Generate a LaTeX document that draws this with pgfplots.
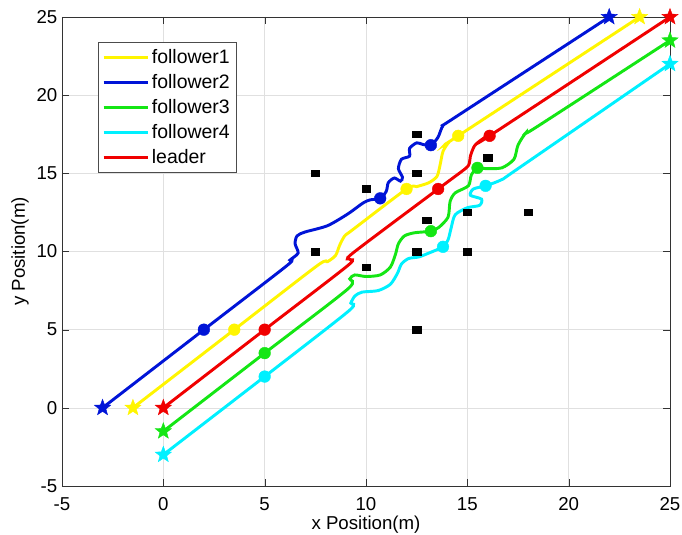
\documentclass[border=0pt]{standalone}
\usepackage{fontspec}
\setmainfont{Liberation Sans}
\usepackage{pgfplots}
\pgfplotsset{compat=1.18}

\definecolor{fyellow}{RGB}{255,245,0}
\definecolor{fblue}{RGB}{0,20,215}
\definecolor{fgreen}{RGB}{20,230,20}
\definecolor{fcyan}{RGB}{0,240,255}
\definecolor{fred}{RGB}{240,0,0}

% filled five-pointed star, like MATLAB's pentagram
\pgfdeclareplotmark{pstar}{%
  \pgfpathmoveto{\pgfpointpolar{90}{\pgfplotmarksize}}%
  \pgfpathlineto{\pgfpointpolar{126}{0.42*\pgfplotmarksize}}%
  \pgfpathlineto{\pgfpointpolar{162}{\pgfplotmarksize}}%
  \pgfpathlineto{\pgfpointpolar{198}{0.42*\pgfplotmarksize}}%
  \pgfpathlineto{\pgfpointpolar{234}{\pgfplotmarksize}}%
  \pgfpathlineto{\pgfpointpolar{270}{0.42*\pgfplotmarksize}}%
  \pgfpathlineto{\pgfpointpolar{306}{\pgfplotmarksize}}%
  \pgfpathlineto{\pgfpointpolar{342}{0.42*\pgfplotmarksize}}%
  \pgfpathlineto{\pgfpointpolar{18}{\pgfplotmarksize}}%
  \pgfpathlineto{\pgfpointpolar{54}{0.42*\pgfplotmarksize}}%
  \pgfpathclose
  \pgfusepathqfillstroke}

\pgfplotsset{
  traj/.style={line width=2.2pt, smooth, tension=0.45},
  dots/.style={only marks, mark=*, mark size=4.4pt, mark options={line width=0.3pt}, forget plot},
  stars/.style={only marks, mark=pstar, mark size=6.4pt, mark options={line width=0.3pt}, forget plot},
}

\begin{document}
\begin{tikzpicture}[font=\fontsize{14}{17}\selectfont]
\begin{axis}[
  name=ax,
  scale only axis,
  width=456pt, height=351.75pt,
  xmin=-5, xmax=25, ymin=-5, ymax=25,
  xtick={-5,0,...,25}, ytick={-5,0,...,25},
  /pgf/number format/assume math mode=true,
  grid=major,
  grid style={black!12},
  axis line style={black!80},
  tick style={black!80},
  major tick length=5pt,
  x tick label style={anchor=base, yshift=-18.5pt},
  xlabel={x Position(m)},
  ylabel={y Position(m)},
  xlabel style={at={(axis description cs:0.5,-0.0938)}, anchor=base},
  ylabel style={at={(axis description cs:-0.069,0.5)}, anchor=center},
  clip=false,
  legend cell align=left,
  legend style={at={(axis description cs:0.059,0.947)}, anchor=north west,
    draw=black!70, line width=0.6pt, fill=white, inner xsep=3pt, inner ysep=3.5pt,
    row sep=2.6pt, font=\fontsize{14.6}{17}\selectfont},
  legend image code/.code={\draw[#1, mark=none] (0pt,0pt) -- (33pt,0pt);},
]
% follower1
\addplot[fyellow, traj] coordinates {
  (-1.5,0) (3.5,5) (7.6,9.1) (8.1,9.35) (8.5,9.75) (8.7,10.4) (8.95,11.0)
  (9.3,11.35) (12,14) (12.5,14.15) (13.1,14.4) (13.5,14.8) (13.65,15.5)
  (13.8,16.4) (14.1,17.0) (14.55,17.4) (23.5,25)
};
% follower2
\addplot[fblue, traj] coordinates {
  (-3,0) (2,5) (6.1,9.1) (6.25,9.45) (6.65,9.9) (6.5,10.5) (6.6,11.0)
  (7.0,11.25) (8.1,11.65) (9.1,12.4) (9.85,13.1) (10.2,13.3) (10.7,13.4)
  (11.0,13.85) (11.1,14.4) (11.4,14.7) (11.7,14.5) (11.8,14.75) (11.6,15.3)
  (11.75,15.9) (12.15,16.1) (12.15,16.6) (12.5,16.95) (12.8,16.85) (13.2,16.8)
  (13.55,17.3) (13.8,18.05) (14.3,18.5) (22,25)
};
% follower3
\addplot[fgreen, traj] coordinates {
  (0,-1.5) (5,3.5) (9.1,7.6) (9.2,8.25) (9.45,8.5) (10.0,8.4) (10.7,8.5)
  (11.2,9.0) (11.45,9.8) (11.6,10.5) (11.9,11.0) (12.4,11.2) (13.2,11.3)
  (13.6,11.55) (14.05,12.2) (14.15,13.2) (14.4,13.75) (15.05,14.2) (15.2,14.9)
  (15.5,15.35) (15.9,15.3) (16.7,15.35) (17.3,15.9) (17.5,16.8) (17.9,17.6)
  (18.4,17.95) (25,23.5)
};
% follower4
\addplot[fcyan, traj] coordinates {
  (0,-3) (5,2) (9.15,6.2) (9.25,6.7) (9.45,7.15) (9.8,7.4) (10.6,7.5)
  (11.2,7.9) (11.55,8.6) (11.75,9.2) (12.1,9.55) (12.6,9.65) (13.1,9.9)
  (13.8,10.3) (14.05,10.75) (14.2,11.5) (14.4,12.35) (15.0,12.8) (15.6,12.95)
  (15.7,13.35) (15.15,13.6) (15.3,14.0) (15.9,14.2) (16.7,14.6) (17.5,15.3)
  (25,22)
};
% leader
\addplot[fred, traj] coordinates {
  (0,0) (5,5) (9.1,9.1) (9.2,9.5) (9.35,9.9) (13.56,14.0) (14.9,15.3)
  (15.1,15.65) (15.15,16.1) (15.35,16.75) (15.7,17.15) (16.1,17.4) (25,25)
};

% intermediate positions
\addplot[fyellow, dots] coordinates {(3.5,5) (12,14) (14.55,17.4)};
\addplot[fblue, dots] coordinates {(2,5) (10.7,13.4) (13.2,16.8)};
\addplot[fgreen, dots] coordinates {(5,3.5) (13.2,11.3) (15.5,15.35)};
\addplot[fcyan, dots] coordinates {(5,2) (13.8,10.3) (15.9,14.2)};
\addplot[fred, dots] coordinates {(5,5) (13.56,14.0) (16.1,17.4)};

% start and goal
\addplot[fyellow, stars] coordinates {(-1.5,0) (23.5,25)};
\addplot[fblue, stars] coordinates {(-3,0) (22,25)};
\addplot[fgreen, stars] coordinates {(0,-1.5) (25,23.5)};
\addplot[fcyan, stars] coordinates {(0,-3) (25,22)};
\addplot[fred, stars] coordinates {(0,0) (25,25)};

% obstacles
\addplot[black, only marks, mark=square*, mark size=2.5pt,
  mark options={xscale=1.25}, forget plot] coordinates {
  (12.5,17.5) (7.5,15) (10,14) (12.5,15) (16,16) (13,12) (15,12.5)
  (18,12.5) (7.5,10) (10,9) (12.5,10) (15,10) (12.5,5)
};

\legend{follower1,follower2,follower3,follower4,leader}
\end{axis}
\pgfresetboundingbox
\path[use as bounding box] ([shift={(-46.5pt,-36.75pt)}]ax.south west)
  rectangle ([shift={(9pt,12.75pt)}]ax.north east);
\end{tikzpicture}
\end{document}
